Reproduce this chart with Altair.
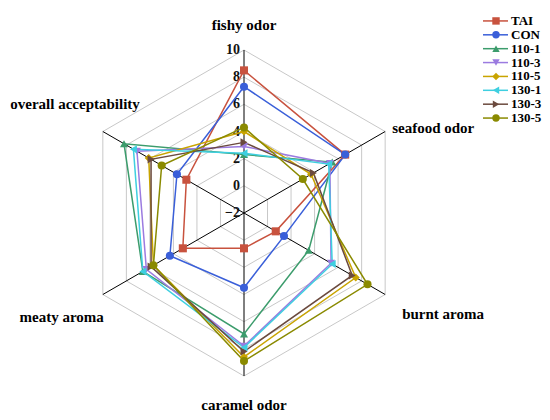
import altair as alt
import pandas as pd

# ---------------- data ----------------
attributes = ["fishy odor", "seafood odor", "burnt aroma", "caramel odor",
              "meaty aroma", "overall acceptability"]
series = ["TAI", "CON", "110-1", "110-3", "110-5", "130-1", "130-3", "130-5"]
tai = [8.5, 6.6, 0.7, 0.6, 3.2, 2.9]
con = [7.3, 6.6, 1.4, 3.5, 4.3, 3.7]
s110_1 = [2.3, 5.5, 3.5, 6.9, 6.6, 8.2]
s110_3 = [2.9, 5.3, 5.4, 7.8, 6.3, 7.1]
s110_5 = [4.0, 3.7, 7.5, 8.6, 5.7, 6.1]
s130_1 = [2.4, 5.2, 5.5, 7.9, 6.6, 7.4]
s130_3 = [3.2, 3.9, 7.2, 8.2, 5.9, 5.9]
s130_5 = [4.3, 3.0, 8.5, 8.9, 5.7, 5.0]
tick_values = [-2, 0, 2, 4, 6, 8, 10]
ring_values = [0, 2, 4, 6, 8, 10]

colors = ["#C8523E", "#3A5FD9", "#3C9C6C", "#9B7BE0", "#C9A400",
          "#3ECFE0", "#6B4A3E", "#8A8A00"]
shapes = ["square", "circle", "triangle-up", "triangle-down", "diamond",
          "triangle-left", "triangle-right", "circle"]

# ---------------- tables ----------------
all_vals = [tai, con, s110_1, s110_3, s110_5, s130_1, s130_3, s130_5]
rows = []
for s, vals in zip(series, all_vals):
    for i, v in enumerate(vals + [vals[0]]):
        rows.append({"series": s, "idx": i % 6, "order": i, "value": v})
df = pd.DataFrame(rows)

grid_rows = []
for rv in ring_values:
    for i in range(7):
        grid_rows.append({"ring": rv, "idx": i % 6, "order": i, "value": rv})
grid_df = pd.DataFrame(grid_rows)

spoke_df = pd.DataFrame({"idx": list(range(6)), "value": [10] * 6})
attr_df = pd.DataFrame({"idx": list(range(6)), "name": attributes, "value": [10] * 6})
tick_df = pd.DataFrame({"value": tick_values, "idx": [0] * len(tick_values)})
legend_df = pd.DataFrame({"series": series})

K = 163 / 12.0  # pixels per unit
xs = alt.Scale(domain=[-236, 298], nice=False, zero=False)
ys = alt.Scale(domain=[-199, 205], nice=False, zero=False)
cs = alt.Scale(domain=series, range=colors)
ss = alt.Scale(domain=series, range=shapes)

SERIF = "Liberation Serif"


def polar(ch):
    return (ch.transform_calculate(theta="PI/2 - datum.idx*PI/3",
                                   r=f"(datum.value + 2) * {K}")
              .transform_calculate(X="datum.r*cos(datum.theta)",
                                   Y="datum.r*sin(datum.theta)"))


grid = polar(alt.Chart(grid_df)).mark_line(color="#c8c8c8", strokeWidth=1).encode(
    x=alt.X("X:Q", scale=xs, axis=None),
    y=alt.Y("Y:Q", scale=ys, axis=None),
    detail="ring:N",
    order="order:Q",
)

spokes = polar(alt.Chart(spoke_df)).transform_calculate(zero="0").mark_rule(
    color="black", strokeWidth=1).encode(
    x=alt.X("zero:Q", scale=xs, axis=None),
    y=alt.Y("zero:Q", scale=ys, axis=None),
    x2="X:Q",
    y2="Y:Q",
)

ticklabels = polar(alt.Chart(tick_df)).transform_calculate(
    label="datum.value < 0 ? '\u2212' + abs(datum.value) : '' + datum.value"
).mark_text(align="right", baseline="middle", dx=-4, font=SERIF,
            fontSize=14, fontWeight="bold", color="#111111").encode(
    x=alt.X("X:Q", scale=xs, axis=None),
    y=alt.Y("Y:Q", scale=ys, axis=None),
    text="label:N",
)

lines = polar(alt.Chart(df)).mark_line(strokeWidth=1.5).encode(
    x=alt.X("X:Q", scale=xs, axis=None),
    y=alt.Y("Y:Q", scale=ys, axis=None),
    color=alt.Color("series:N", scale=cs, legend=None),
    detail="series:N",
    order="order:Q",
)

points = polar(alt.Chart(df)).transform_filter("datum.order < 6").mark_point(
    filled=True, opacity=1, size=65).encode(
    x=alt.X("X:Q", scale=xs, axis=None),
    y=alt.Y("Y:Q", scale=ys, axis=None),
    color=alt.Color("series:N", scale=cs, legend=None),
    shape=alt.Shape("series:N", scale=ss, legend=None),
)

label_layout = [
    (0, "center", 0, -25),
    (1, "left", 7, -4),
    (2, "left", 17, 19),
    (3, "center", 0, 29),
    (4, "right", 1, 22),
    (5, "right", 37, -28),
]
labels = []
for idx, al, dx, dy in label_layout:
    labels.append(
        polar(alt.Chart(attr_df)).transform_filter(f"datum.idx == {idx}").mark_text(
            align=al, baseline="middle", dx=dx, dy=dy, font=SERIF,
            fontSize=15, fontWeight="bold", color="black").encode(
            x=alt.X("X:Q", scale=xs, axis=None),
            y=alt.Y("Y:Q", scale=ys, axis=None),
            text="name:N",
        )
    )

main = alt.layer(grid, spokes, ticklabels, lines, points, *labels)

ly = alt.Y("series:N", scale=alt.Scale(domain=series, range=[6, 117]), axis=None)
leg_line = alt.Chart(legend_df).mark_rule(strokeWidth=1.5).encode(
    x=alt.value(475), x2=alt.value(500), y=ly,
    color=alt.Color("series:N", scale=cs, legend=None),
)
leg_pt = alt.Chart(legend_df).mark_point(filled=True, opacity=1, size=55).encode(
    x=alt.value(488), y=ly,
    color=alt.Color("series:N", scale=cs, legend=None),
    shape=alt.Shape("series:N", scale=ss, legend=None),
)
leg_txt = alt.Chart(legend_df).mark_text(
    align="left", baseline="middle", font=SERIF, fontSize=13,
    fontWeight="bold", color="black").encode(
    x=alt.value(503), y=ly, text="series:N",
)
legend = alt.layer(leg_line, leg_pt, leg_txt)

chart = alt.layer(main, legend).resolve_scale(y="independent").properties(
    width=534, height=404, padding=0,
    autosize=alt.AutoSizeParams(type="none"),
).configure_view(stroke=None)

chart.save("out.html", embed_options={"renderer": "svg", "actions": False})
